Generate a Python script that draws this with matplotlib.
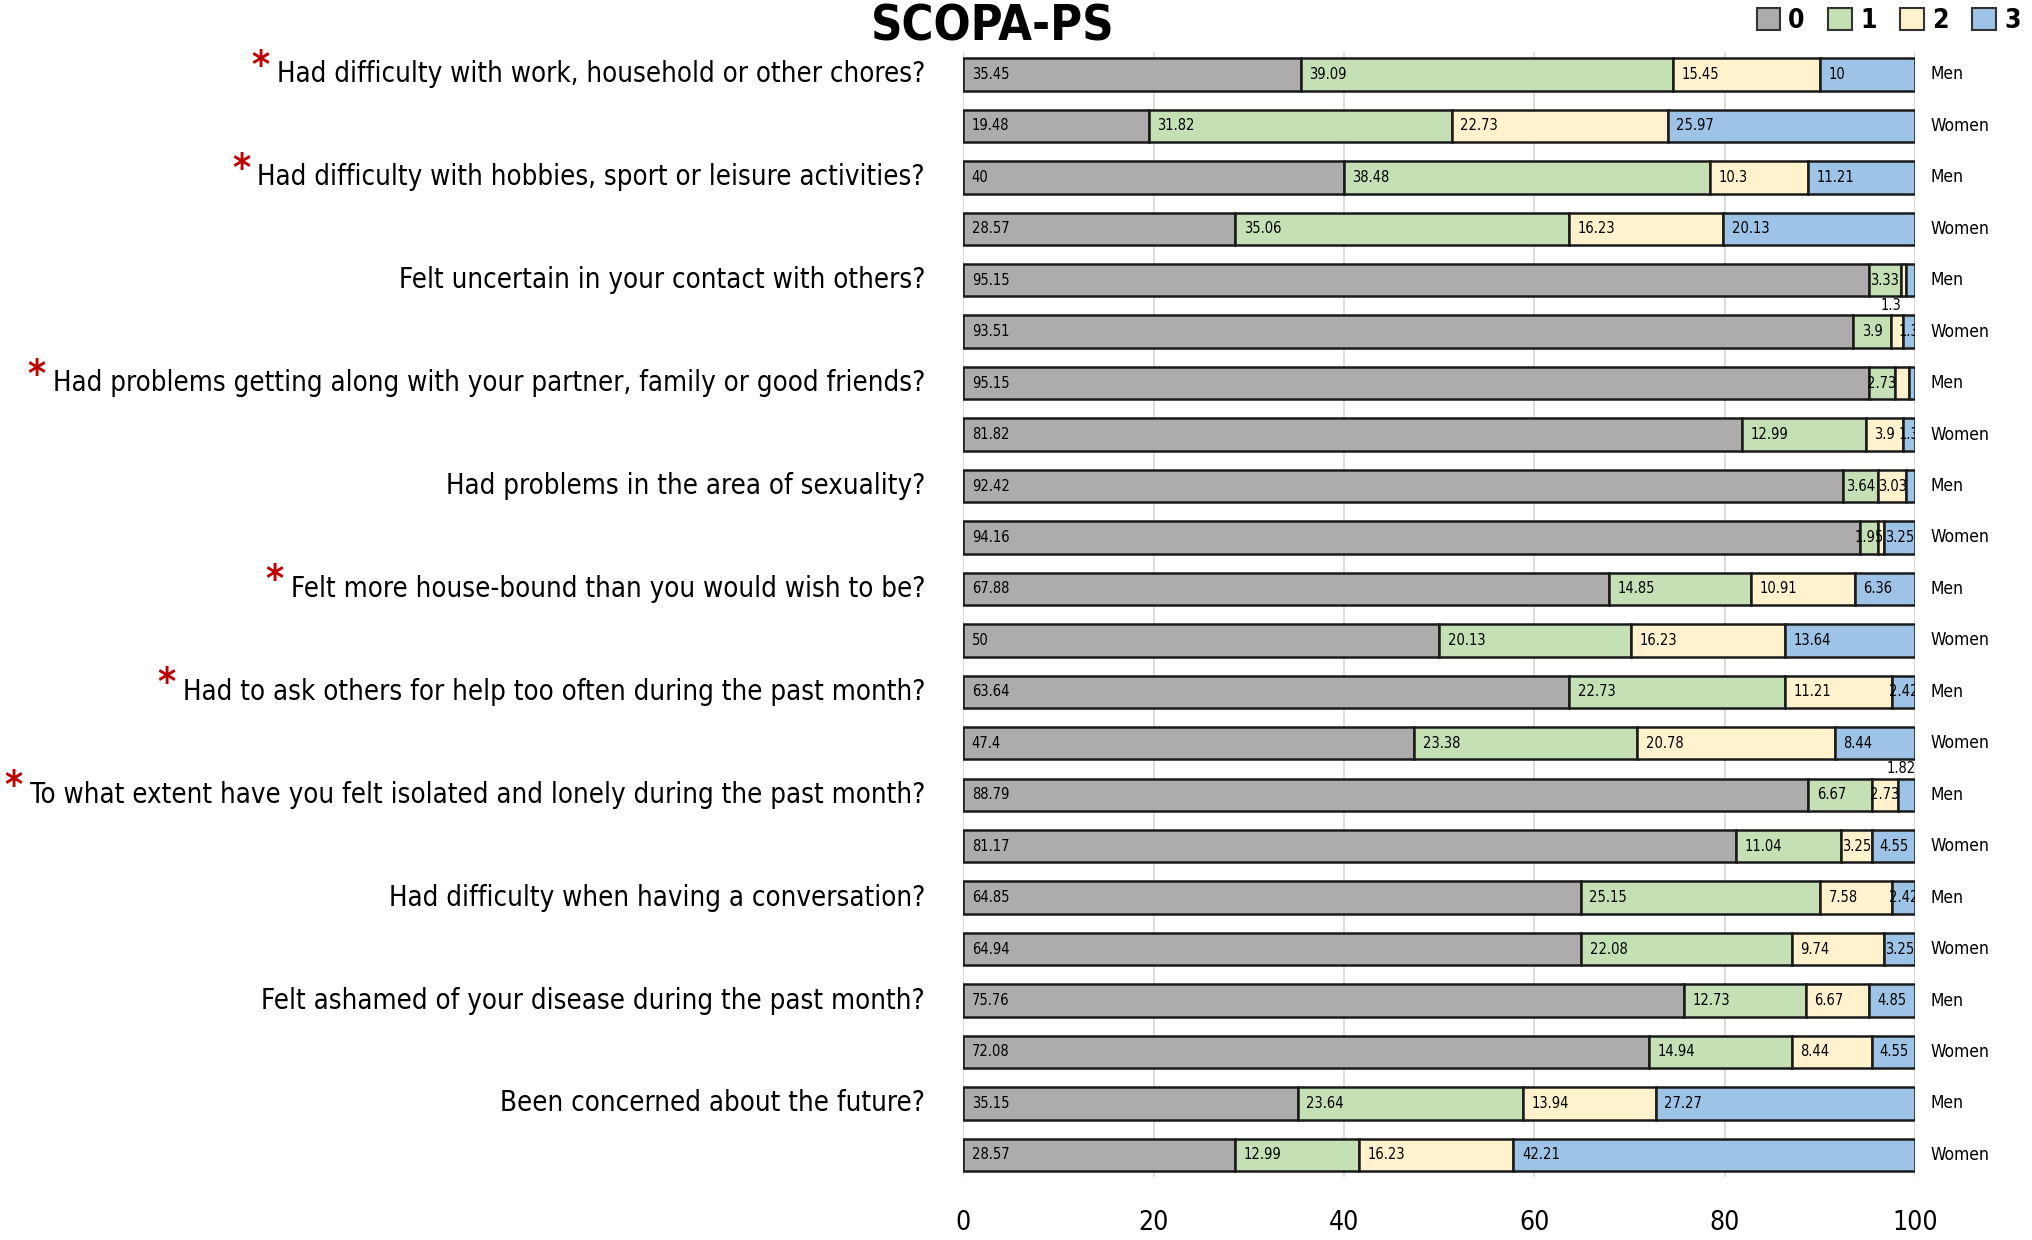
import matplotlib
matplotlib.use('Agg')
import matplotlib.pyplot as plt
from matplotlib import font_manager
from matplotlib.patches import Patch

questions = [
    'Had difficulty with work, household or other chores?',
    'Had difficulty with hobbies, sport or leisure activities?',
    'Felt uncertain in your contact with others?',
    'Had problems getting along with your partner, family or good friends?',
    'Had problems in the area of sexuality?',
    'Felt more house-bound than you would wish to be?',
    'Had to ask others for help too often during the past month?',
    'To what extent have you felt isolated and lonely during the past month?',
    'Had difficulty when having a conversation?',
    'Felt ashamed of your disease during the past month?',
    'Been concerned about the future?',
]
starred = [True, True, False, True, False, True, True, True, False, False, False]
groups = ['Men', 'Women']
categories = ['0', '1', '2', '3']

men_0 = [35.45, 40, 95.15, 95.15, 92.42, 67.88, 63.64, 88.79, 64.85, 75.76, 35.15]
men_1 = [39.09, 38.48, 3.33, 2.73, 3.64, 14.85, 22.73, 6.67, 25.15, 12.73, 23.64]
men_2 = [15.45, 10.3, 0.61, 1.52, 3.03, 10.91, 11.21, 2.73, 7.58, 6.67, 13.94]
men_3 = [10, 11.21, 0.91, 0.61, 0.91, 6.36, 2.42, 1.82, 2.42, 4.85, 27.27]

women_0 = [19.48, 28.57, 93.51, 81.82, 94.16, 50, 47.4, 81.17, 64.94, 72.08, 28.57]
women_1 = [31.82, 35.06, 3.9, 12.99, 1.95, 20.13, 23.38, 11.04, 22.08, 14.94, 12.99]
women_2 = [22.73, 16.23, 1.3, 3.9, 0.65, 16.23, 20.78, 3.25, 9.74, 8.44, 16.23]
women_3 = [25.97, 20.13, 1.3, 1.3, 3.25, 13.64, 8.44, 4.55, 3.25, 4.55, 42.21]

colors = ['#AEABAB', '#C5E0B4', '#FFF2CC', '#9DC3E6']

# labels Excel hid / moved above the bar: (bar index, category)
no_label = {(6, 2)}
above_label = {(5, 2), (14, 3)}

# font: use a narrow face if there is one
names = {f.name for f in font_manager.fontManager.ttflist}
condensed = [f for f in font_manager.fontManager.ttflist
             if f.name == 'DejaVu Sans' and 'ondensed' in str(f.stretch) + f.fname]
font = {'family': 'DejaVu Sans'}
qsize = 17.5
if 'Liberation Sans Narrow' in names:
    font = {'family': 'Liberation Sans Narrow'}
    qsize = 21
elif condensed:
    font = {'family': 'DejaVu Sans', 'stretch': 'condensed'}
    qsize = 19.8
plt.rcParams['font.family'] = font['family']
if 'stretch' in font:
    plt.rcParams['font.stretch'] = font['stretch']

# bars ordered Men, Women for each question
bars = []
for i in range(len(questions)):
    bars.append([men_0[i], men_1[i], men_2[i], men_3[i]])
    bars.append([women_0[i], women_1[i], women_2[i], women_3[i]])

fig = plt.figure(figsize=(20.32, 12.4), dpi=100)
ax = fig.add_axes([0.474, 0.0508, 0.4685, 0.907])

h = 0.63
for b, vals in enumerate(bars):
    left = 0
    for c, v in enumerate(vals):
        ax.barh(b, v, left=left, height=h, color=colors[c],
                edgecolor='#1a1a1a', linewidth=1.8, zorder=3)
        if v >= 1 and (b, c) not in no_label:
            lbl = ('%.2f' % v).rstrip('0').rstrip('.')
            if (b, c) in above_label:
                ax.text(left + v / 2 - 0.6, b - h / 2 - 0.05, lbl, ha='center', va='bottom',
                        fontsize=10.5, zorder=5, clip_on=False)
            elif v >= 5:
                ax.text(left + 0.9, b, lbl, ha='left', va='center',
                        fontsize=10.5, zorder=5, clip_on=True)
            else:
                ax.text(left + v / 2, b, lbl, ha='center', va='center',
                        fontsize=10.5, zorder=5, clip_on=True)
        left += v
    ax.text(101.6, b, groups[b % 2], ha='left', va='center', fontsize=12.5)

for i, q in enumerate(questions):
    t = ax.text(-4, 2 * i, q, ha='right', va='center', fontsize=qsize)
    if starred[i]:
        ax.annotate('*', xy=(0, 1), xytext=(-5, 9), xycoords=t, textcoords='offset points',
                    ha='right', va='top', fontsize=qsize + 8, fontweight='bold',
                    color='#C00000', family='DejaVu Sans')

ax.set_xlim(0, 100)
ax.set_ylim(len(bars) - 1 + 0.43, -0.43)
ax.set_xticks([0, 20, 40, 60, 80, 100])
ax.set_yticks([])
ax.grid(axis='x', color='#d6d6d6', linewidth=1.2, zorder=0)
for s in ax.spines.values():
    s.set_visible(False)
ax.tick_params(axis='x', length=0, pad=24, labelsize=19)

fig.text(0.4887, 0.979, 'SCOPA-PS', ha='center', va='center',
         fontsize=35, fontweight='bold')

handles = [Patch(facecolor=colors[c], edgecolor='#333333', linewidth=1.5) for c in range(4)]
fig.legend(handles, categories, loc='upper right', bbox_to_anchor=(1.006, 1.013), ncol=4,
           frameon=False, handlelength=0.9, handleheight=0.9, handletextpad=0.3,
           columnspacing=0.9, prop={'weight': 'bold', 'size': 19})

fig.savefig('out.png', dpi=100)
